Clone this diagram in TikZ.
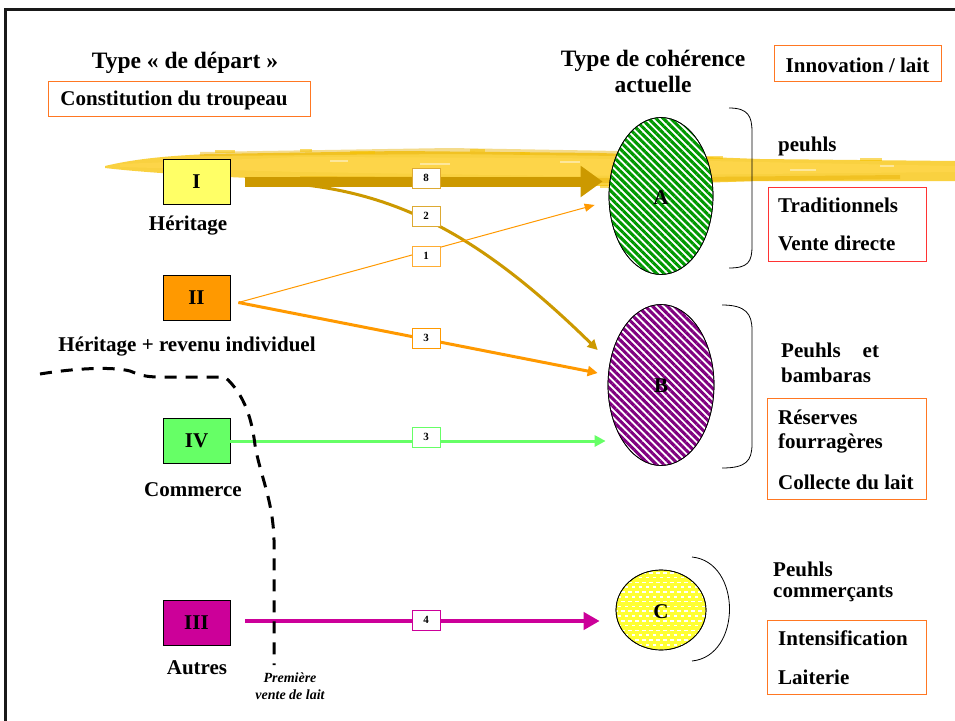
\documentclass[tikz,border=0pt]{standalone}
\usepackage{fontspec}
\setmainfont{Liberation Serif}
\usetikzlibrary{arrows.meta,patterns.meta,shapes.geometric}

\definecolor{gold}{HTML}{CC9900}
\definecolor{goldlbl}{HTML}{DDAA33}
\definecolor{brushA}{HTML}{F7C200}
\definecolor{brushB}{HTML}{FFD84D}
\definecolor{brushC}{HTML}{E8B000}
\definecolor{orangeII}{HTML}{FF9900}
\definecolor{greenIV}{HTML}{66FF66}
\definecolor{magIII}{HTML}{CC0099}
\definecolor{yellowI}{HTML}{FFFF66}
\definecolor{boxorange}{HTML}{FF7722}
\definecolor{boxred}{HTML}{FF3333}
\definecolor{hatchgreen}{HTML}{009900}
\definecolor{hatchpurple}{HTML}{800080}
\definecolor{fillC}{HTML}{FFFF33}

\tikzset{
  body/.style={font=\fontsize{21}{25}\selectfont\bfseries, inner sep=0pt},
  title/.style={font=\fontsize{23.5}{28}\selectfont\bfseries, inner sep=0pt, align=center},
  typebox/.style={draw=black, line width=0.8pt, minimum width=67pt, minimum height=45pt,
    inner sep=0pt, font=\fontsize{21}{25}\selectfont\bfseries},
  framebox/.style={draw=#1, line width=1pt, fill=none, inner sep=0pt},
  numbox/.style={draw=#1, line width=1pt, fill=white, minimum width=28pt, minimum height=20pt,
    inner sep=0pt, font=\fontsize{11}{13}\selectfont\bfseries},
  hatch/.style={pattern={Lines[angle=-45,distance=5.2pt,line width=3.1pt]}, pattern color=#1},
}

\begin{document}
\begin{tikzpicture}[x=1pt,y=-1pt]
\useasboundingbox (0,0) rectangle (955,720);
\fill[white] (0,0) rectangle (955,720);

% slide frame
\draw[line width=3pt, black!90] (5,730) -- (5,9.5) -- (965,9.5);

% highlighter stroke behind the first row
\fill[brushA, opacity=0.75]
  (105,166) .. controls (130,160) and (160,156) .. (210,154)
  -- (400,151) -- (600,153) -- (760,159) -- (955,161)
  -- (955,181) -- (760,181) -- (600,186) -- (400,181)
  -- (250,178) .. controls (180,175) and (130,171) .. (105,168) -- cycle;
\fill[brushB, opacity=0.7]
  (120,164) -- (300,157) -- (560,158) -- (955,166) -- (955,172) -- (560,176) -- (300,172) -- (120,167) -- cycle;
\fill[brushC, opacity=0.45]
  (200,152) -- (450,148) -- (620,151) -- (620,156) -- (450,154) -- (200,156) -- cycle;
\fill[brushC, opacity=0.45]
  (300,176) -- (600,178) -- (900,175) -- (900,179) -- (600,183) -- (300,179) -- cycle;
\foreach \x/\y/\w in {215/150/20, 300/149/12, 350/151/25, 470/149/15, 520/152/10, 705/156/18, 860/158/22, 600/185/14, 260/177/10}
  \fill[brushA, opacity=0.6] (\x,\y) rectangle ++(\w,2.5);
\foreach \x/\y/\w in {330/160/18, 420/163/30, 560/161/20, 790/169/26, 880/165/14}
  \fill[white, opacity=0.45] (\x,\y) rectangle ++(\w,1.5);

% starting types
\node[typebox, fill=yellowI] (b1) at (196.5,181.5) {I};
\node[typebox, fill=orangeII] (b2) at (196.5,297.5) {II};
\node[typebox, fill=greenIV] (b4) at (196.5,441) {IV};
\node[typebox, fill=magIII] (b3) at (196.5,623) {III};

\node[body] (t1) at (188,226) {Héritage};
\node[body] (t2) at (187,347) {Héritage + revenu individuel};
\node[body] (t4) at (193,490) {Commerce};
\node[body] (t3) at (197,668) {Autres};

% headings
\node[title] (h1) at (185,63) {Type « de départ »};
\node[framebox=boxorange, minimum width=262pt, minimum height=35pt] (hb1) at (179,98.5) {};
\node[body] (h1b) at (174,100) {Constitution du troupeau};
\node[title] (h2) at (653,71) {Type de cohérence\\[-2pt]actuelle};
\node[framebox=boxorange, minimum width=167pt, minimum height=36pt] (hb2) at (857.5,63) {};
\node[body] (h2b) at (857.5,65) {Innovation / lait};

% current types
\node[ellipse, draw=black, line width=0.7pt, fill=white, minimum width=104pt, minimum height=157pt, inner sep=0pt] (eA) at (661,196) {};
\fill[hatch=hatchgreen] (661,196) ellipse [x radius=52, y radius=78.5];
\draw[line width=0.7pt] (661,196) ellipse [x radius=52, y radius=78.5];
\node[body] (lA) at (661,198) {A};

\node[ellipse, draw=black, line width=0.7pt, fill=white, minimum width=106pt, minimum height=161pt, inner sep=0pt] (eB) at (661,385) {};
\fill[hatch=hatchpurple] (661,385) ellipse [x radius=53, y radius=80.5];
\draw[line width=0.7pt] (661,385) ellipse [x radius=53, y radius=80.5];
\node[body] (lB) at (661,386) {B};

\node[ellipse, draw=black, line width=0.7pt, fill=fillC, minimum width=90pt, minimum height=80pt, inner sep=0pt] (eC) at (661,610) {};
\begin{scope}
  \clip (661,610) ellipse [x radius=44.5, y radius=39.5];
  \foreach \r in {0,...,16} {
    \pgfmathsetmacro{\yy}{572+\r*4.8}
    \pgfmathsetmacro{\off}{mod(\r,2)*3.5}
    \foreach \c in {0,...,14}
      \fill[white] ({614+\off+\c*7},\yy) rectangle ++(3.6,1.6);
  }
\end{scope}
\draw[line width=0.7pt] (661,610) ellipse [x radius=45, y radius=40];
\node[body] (lC) at (661,612) {C};

% brackets
\draw[line width=0.8pt] (729,108) .. controls (748,108) and (752,116) .. (752,132)
  -- (752,246) .. controls (752,262) and (748,268) .. (729,268);
\draw[line width=0.8pt] (722,305) .. controls (746,305) and (752,314) .. (752,330)
  -- (752,444) .. controls (752,461) and (746,468) .. (722,468);
\draw[line width=0.8pt] (692,557) .. controls (742,562) and (742,656) .. (692,661);

% descriptions
\node[body, anchor=west] (dA1) at (778,146) {peuhls};
\node[framebox=boxred, minimum width=158pt, minimum height=74pt] (rA) at (847,224) {};
\node[body, anchor=west] (dA2) at (778,205) {Traditionnels};
\node[body, anchor=west] (dA3) at (778,243) {Vente directe};

\node[body, anchor=west] (dB1) at (781,350) {Peuhls\hspace{22pt}et};
\node[body, anchor=west] (dB2) at (781,375) {bambaras};
\node[framebox=boxorange, minimum width=159pt, minimum height=101pt] (rB) at (846.5,449) {};
\node[body, anchor=west] (dB3) at (778,417) {Réserves};
\node[body, anchor=west] (dB4) at (778,443) {fourragères};
\node[body, anchor=west] (dB5) at (778,482) {Collecte du lait};

\node[body, anchor=west] (dC1) at (773,569) {Peuhls};
\node[body, anchor=west] (dC2) at (773,594) {commerçants};
\node[framebox=boxorange, minimum width=159pt, minimum height=74pt] (rC) at (846.5,657) {};
\node[body, anchor=west] (dC3) at (778,638) {Intensification};
\node[body, anchor=west] (dC4) at (778,677) {Laiterie};

% flows
\coordinate (s1) at ([xshift=15pt]b1.east);
\coordinate (s2) at ([xshift=8pt,yshift=-5pt]b2.east);
\coordinate (s3) at ([xshift=15pt]b3.east |- 0,621);
\draw[gold, line width=10pt, -{Triangle[length=22pt,width=30pt]}] (s1) -- ([xshift=-6pt]eA.west |- s1);
\draw[gold, line width=3pt, -{Triangle[length=10pt,width=10pt]}]
  (s1) .. controls (380,182) and (470,225) .. ([xshift=-10pt,yshift=35pt]eB.west);
\draw[orangeII, line width=1pt, -{Triangle[length=10pt,width=8pt]}] (s2) -- ([xshift=-14pt,yshift=-9pt]eA.west);
\draw[orangeII, line width=3pt, -{Triangle[length=10pt,width=10pt]}] (s2) -- ([xshift=-10pt,yshift=12pt]eB.west);
\draw[greenIV, line width=3pt, -{Triangle[length=11pt,width=11pt]}] (b4.east) -- ([xshift=-2pt]eB.west |- b4.east);
\draw[magIII, line width=4pt, -{Triangle[length=16pt,width=17pt]}] (s3) -- ([xshift=-16pt]eC.west |- s3);

% flow counts
\node[numbox=goldlbl] (n8) at (426,178) {8};
\node[numbox=goldlbl] (n2) at (426,216) {2};
\node[numbox=orangeII!80] (n1) at (426,256) {1};
\node[numbox=orangeII] (n3a) at (426,338) {3};
\node[numbox=greenIV] (n3b) at (426,437) {3};
\node[numbox=magIII] (n4) at (426,620) {4};

% first milk sale boundary
\draw[black, line width=3pt, dash pattern=on 12pt off 9pt]
  (40,374) .. controls (70,369) and (110,366) .. (130,371)
  .. controls (140,375) and (145,377) .. (160,377)
  -- (225,377)
  .. controls (245,395) and (252,420) .. (255,445)
  .. controls (260,475) and (273,500) .. (274,540)
  -- (274,665);
\node[font=\fontsize{14}{17}\selectfont\bfseries\itshape, align=center, inner sep=0pt] (pv) at (290,686) {Première\\vente de lait};

\end{tikzpicture}
\end{document}
